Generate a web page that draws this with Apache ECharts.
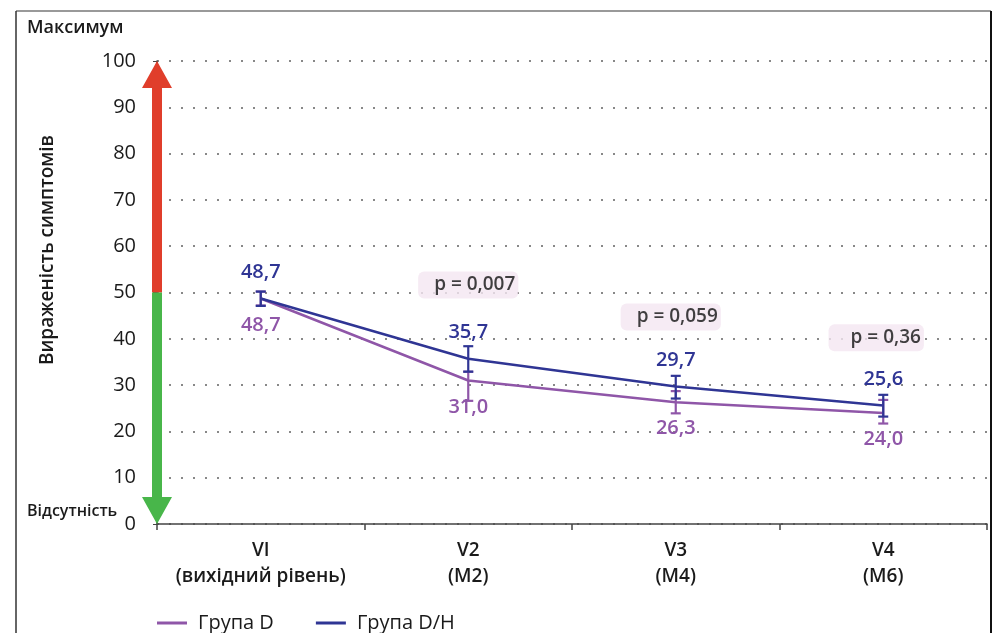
<!DOCTYPE html>
<html><head><meta charset="utf-8">
<script src="https://cdn.jsdelivr.net/npm/echarts@6/dist/echarts.min.js"></script>
<style>html,body{margin:0;padding:0;background:#fff}#c{width:997px;height:633px}</style>
</head><body><div id="c"></div>
<script>
const categories = ['VI\n(вихідний рівень)', 'V2\n(M2)', 'V3\n(M4)', 'V4\n(M6)'];
const yTicks = [0, 10, 20, 30, 40, 50, 60, 70, 80, 90, 100];
const groupD = [48.7, 31.0, 26.3, 24.0];
const groupDH = [48.7, 35.7, 29.7, 25.6];
const groupDLow = [47.2, 26.6, 23.9, 21.7];
const groupDHigh = [50.2, 32.9, 28.7, 26.8];
const groupDHLow = [47.1, 32.9, 27.1, 23.2];
const groupDHHigh = [50.2, 38.4, 32.0, 27.9];
const pLabels = ['p = 0,007', 'p = 0,059', 'p = 0,36'];
const pCats = [1, 2, 3];
const pLevels = [51.6, 44.7, 40.2];

const FONT = '"Open Sans"';
const PURPLE = '#8f56a8';
const BLUE = '#2f3594';
const TXT = '#1a1a1a';
const fmt = v => v.toFixed(1).replace('.', ',');
const pBoxShift = [0, -5, -7];
const pBoxPadLeft = [16, 16, 22];

const chart = echarts.init(document.getElementById('c'));

// error bars for both groups: [category, low, high, group]
const errData = [];
groupD.forEach((v, i) => errData.push([i, groupDLow[i], groupDHigh[i], 0]));
groupDH.forEach((v, i) => errData.push([i, groupDHLow[i], groupDHHigh[i], 1]));

function errRender(params, api) {
  const color = api.value(3) === 1 ? BLUE : PURPLE;
  const x = api.coord([api.value(0), 0])[0];
  const lo = api.coord([api.value(0), api.value(1)])[1];
  const hi = api.coord([api.value(0), api.value(2)])[1];
  const w = 5;
  const st = { stroke: color, lineWidth: 2.2 };
  return { type: 'group', children: [
    { type: 'line', shape: { x1: x, y1: lo, x2: x, y2: hi }, style: st },
    { type: 'line', shape: { x1: x - w, y1: lo, x2: x + w, y2: lo }, style: st },
    { type: 'line', shape: { x1: x - w, y1: hi, x2: x + w, y2: hi }, style: st }
  ]};
}

function arrowRender(params, api) {
  const cs = params.coordSys;
  const x = cs.x;
  const yTop = api.coord([0, 100])[1];
  const yMid = api.coord([0, 50])[1];
  const yBot = api.coord([0, 0])[1];
  const sw = 5, hw = 15, hh = 27;
  return { type: 'group', children: [
    { type: 'polygon', shape: { points: [
      [x - sw, yMid], [x - sw, yTop + hh], [x - hw, yTop + hh], [x, yTop],
      [x + hw, yTop + hh], [x + sw, yTop + hh], [x + sw, yMid]] },
      style: { fill: '#e03e2b' } },
    { type: 'polygon', shape: { points: [
      [x - sw, yMid], [x - sw, yBot - hh], [x - hw, yBot - hh], [x, yBot],
      [x + hw, yBot - hh], [x + sw, yBot - hh], [x + sw, yMid]] },
      style: { fill: '#48b64a' } }
  ]};
}

const option = {
  animation: false,
  backgroundColor: '#fff',
  textStyle: { fontFamily: FONT },
  grid: { left: 157, right: 10, top: 61, bottom: 109, containLabel: false },
  legend: {
    left: 152, top: 608,
    itemWidth: 30, itemHeight: 3, itemGap: 42,
    icon: 'rect',
    textStyle: { fontFamily: FONT, fontSize: 20, fontWeight: 500, color: TXT, padding: [0, 0, 0, 6] },
    data: ['Група D', 'Група D/H']
  },
  xAxis: {
    type: 'category', data: categories, boundaryGap: true,
    axisLine: { lineStyle: { color: '#444', width: 1.5 } },
    axisTick: { show: true, length: 6, lineStyle: { color: '#444', width: 1.5 } },
    axisLabel: { interval: 0, color: TXT, fontSize: 19, fontWeight: 600, fontFamily: FONT, margin: 14, lineHeight: 26 }
  },
  yAxis: {
    type: 'value', min: 0, max: 100, interval: 10,
    axisLine: { show: true, lineStyle: { color: '#444', width: 1.5 } },
    axisTick: { show: true, inside: false, length: 4, lineStyle: { color: '#444' } },
    axisLabel: { color: TXT, fontSize: 20, fontWeight: 500, fontFamily: FONT, margin: 21,
      formatter: v => yTicks.includes(v) ? String(v) : '' },
    splitLine: { show: true, lineStyle: { color: '#888', type: [2, 10], width: 2.2 } }
  },
  graphic: [
    { type: 'line', shape: { x1: 16, y1: 11, x2: 991, y2: 11 }, style: { stroke: '#999', lineWidth: 2 } },
    { type: 'line', shape: { x1: 16, y1: 11, x2: 16, y2: 633 }, style: { stroke: '#333', lineWidth: 1.5 } },
    { type: 'line', shape: { x1: 991, y1: 11, x2: 991, y2: 633 }, style: { stroke: '#111', lineWidth: 2 } },
    { type: 'text', left: 27, top: 19, style: { text: 'Максимум', font: '600 18px ' + FONT, fill: TXT } },
    { type: 'text', left: 27, top: 503, style: { text: 'Відсутність', font: '600 16px ' + FONT, fill: TXT } },
    { type: 'text', x: 48, y: 250, rotation: Math.PI / 2,
      style: { text: 'Вираженість симптомів', font: '600 19px ' + FONT, fill: TXT, align: 'center', verticalAlign: 'middle' } }
  ],
  series: [
    { type: 'custom', name: 'arrow', renderItem: arrowRender, data: [[0, 0]], z: 5, silent: true, clip: false },
    { type: 'line', name: 'Група D', data: groupD, symbol: 'circle', symbolSize: 1, z: 6,
      lineStyle: { color: PURPLE, width: 2.5 }, itemStyle: { color: PURPLE },
      labelLayout: { hideOverlap: false },
      label: { show: true, position: 'bottom', distance: 16, color: PURPLE, fontSize: 20, fontWeight: 600, fontFamily: FONT,
        formatter: p => fmt(p.value) } },
    { type: 'line', name: 'Група D/H', data: groupDH, symbol: 'circle', symbolSize: 1, z: 7,
      lineStyle: { color: BLUE, width: 2.5 }, itemStyle: { color: BLUE },
      labelLayout: { hideOverlap: false },
      label: { show: true, position: 'top', distance: 16, color: BLUE, fontSize: 20, fontWeight: 600, fontFamily: FONT,
        formatter: p => fmt(p.value) } },
    { type: 'custom', name: 'errbars', renderItem: errRender, z: 8, silent: true,
      dimensions: ['x', 'low', 'high', 'g'],
      encode: { x: 0, y: [1, 2] },
      data: errData },
    { type: 'scatter', name: 'p', symbol: 'circle', symbolSize: 1, z: 10,
      itemStyle: { color: 'rgba(0,0,0,0)' },
      data: pCats.map((c, i) => ({ value: [c, pLevels[i]],
        label: { offset: [pBoxShift[i], 0], padding: [4, 3, 4, pBoxPadLeft[i]] } })),
      label: { show: true, position: 'inside',
        formatter: p => pLabels[p.dataIndex],
        color: '#111', fontSize: 19, fontWeight: 600, fontFamily: FONT,
        backgroundColor: '#f4e6f1', borderRadius: 6 } }
  ]
};
chart.setOption(option);
</script></body></html>
